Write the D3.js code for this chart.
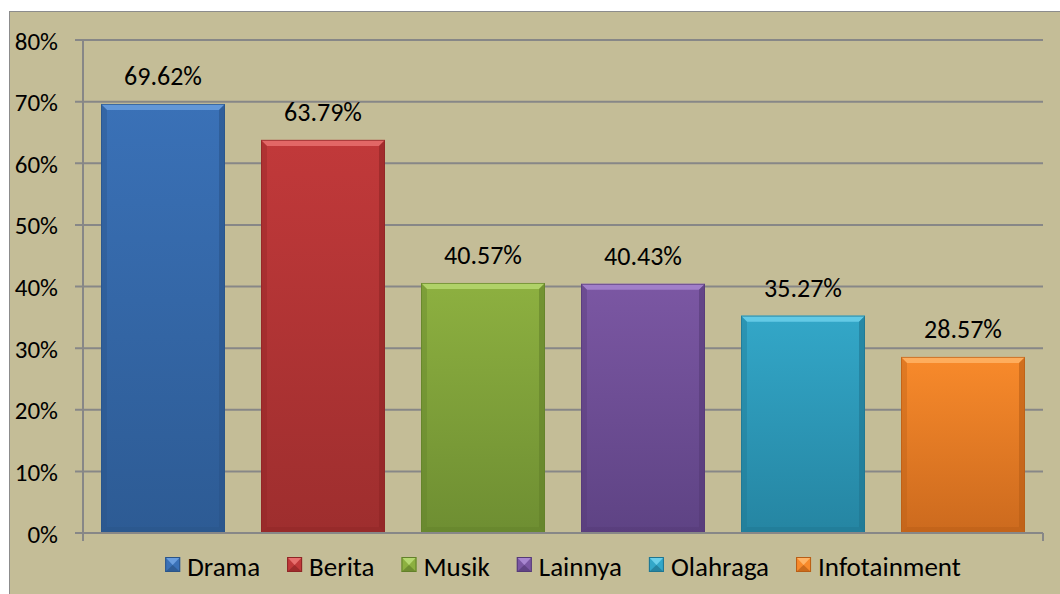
<!DOCTYPE html>
<html>
<head>
<meta charset="utf-8">
<script src="https://cdn.jsdelivr.net/npm/d3@7"></script>
<style>
  html, body { margin: 0; padding: 0; background: #ffffff; }
  svg { display: block; }
  text { font-family: Carlito, Lato, "Noto Sans", sans-serif; fill: #000; }
</style>
</head>
<body>
<svg id="chart" width="1060" height="594"></svg>
<script>
const categories = ["Drama", "Berita", "Musik", "Lainnya", "Olahraga", "Infotainment"];
const values = [69.62, 63.79, 40.57, 40.43, 35.27, 28.57];
const yTicks = [0, 10, 20, 30, 40, 50, 60, 70, 80];
const colors = [
  {base: "#3A71B7", light: "#6A9EDE", dark: "#2A5488", bottom: "#2D5B94"},
  {base: "#C1393A", light: "#E8706E", dark: "#8E2525", bottom: "#9E2E2E"},
  {base: "#8DB040", light: "#B6D870", dark: "#62802A", bottom: "#6E8E32"},
  {base: "#7B57A3", light: "#A886D0", dark: "#553A76", bottom: "#5E4384"},
  {base: "#33A7C8", light: "#6CD0EA", dark: "#1F7590", bottom: "#2585A2"},
  {base: "#F88A2B", light: "#FFB466", dark: "#B85E16", bottom: "#CC6A1E"}
];

(function () {
const svg = d3.select("#chart");
const W = 1060, H = 594;

svg.append("rect").attr("x", 9.5).attr("y", 11.5).attr("width", W).attr("height", H)
  .attr("fill", "#C4BD97").attr("stroke", "#8C8C8C").attr("stroke-width", 1);

const pLeft = 83, pRight = 1043, pTop = 40, pBottom = 533;
const x = d3.scaleBand().domain(categories).range([pLeft, pRight]).paddingInner(0.225).paddingOuter(0.1125);
const y = d3.scaleLinear().domain([0, 80]).range([pBottom, pTop]);

const defs = svg.append("defs");
colors.forEach((c, i) => {
  const g = defs.append("linearGradient").attr("id", "g" + i).attr("x1", 0).attr("y1", 0).attr("x2", 0).attr("y2", 1);
  g.append("stop").attr("offset", "0%").attr("stop-color", c.base);
  g.append("stop").attr("offset", "100%").attr("stop-color", c.bottom);
});

svg.append("g").selectAll("line").data(yTicks).join("line")
  .attr("x1", pLeft - 8).attr("x2", pRight)
  .attr("y1", d => y(d)).attr("y2", d => y(d))
  .attr("stroke", "#878787").attr("stroke-width", 2);

svg.append("line").attr("x1", pLeft).attr("x2", pLeft).attr("y1", pTop).attr("y2", pBottom + 8)
  .attr("stroke", "#878787").attr("stroke-width", 2);
[pLeft, pRight].forEach(px => {
  svg.append("line").attr("x1", px).attr("x2", px).attr("y1", pBottom).attr("y2", pBottom + 8)
    .attr("stroke", "#878787").attr("stroke-width", 2);
});

svg.append("g").selectAll("text").data(yTicks).join("text")
  .attr("x", 58).attr("y", d => y(d) + 1).attr("text-anchor", "end")
  .attr("dominant-baseline", "central").style("font-size", "25px")
  .text(d => d + "%");

const bev = 6;
const bars = svg.append("g");
categories.forEach((cat, i) => {
  const x0 = x(cat), w = x.bandwidth(), y0 = y(values[i]), y1 = y(0), c = colors[i];
  const g = bars.append("g");
  g.append("rect").attr("x", x0).attr("y", y0).attr("width", w).attr("height", y1 - y0)
    .attr("fill", `url(#g${i})`);
  g.append("polygon").attr("points", `${x0},${y0} ${x0+w},${y0} ${x0+w-bev},${y0+bev} ${x0+bev},${y0+bev}`)
    .attr("fill", c.light).attr("opacity", 0.85);
  g.append("polygon").attr("points", `${x0},${y0} ${x0+bev},${y0+bev} ${x0+bev},${y1-bev} ${x0},${y1}`)
    .attr("fill", c.dark).attr("opacity", 0.35);
  g.append("polygon").attr("points", `${x0+w},${y0} ${x0+w-bev},${y0+bev} ${x0+w-bev},${y1-bev} ${x0+w},${y1}`)
    .attr("fill", c.dark).attr("opacity", 0.6);
  g.append("polygon").attr("points", `${x0},${y1} ${x0+bev},${y1-bev} ${x0+w-bev},${y1-bev} ${x0+w},${y1}`)
    .attr("fill", c.dark).attr("opacity", 0.45);
  g.append("rect").attr("x", x0 + 0.5).attr("y", y0 + 0.5).attr("width", w - 1).attr("height", y1 - y0 - 1)
    .attr("fill", "none").attr("stroke", c.dark).attr("stroke-width", 1).attr("opacity", 0.7);
});

svg.append("line").attr("x1", pLeft - 8).attr("x2", pRight).attr("y1", pBottom).attr("y2", pBottom)
  .attr("stroke", "#878787").attr("stroke-width", 2);

svg.append("g").selectAll("text").data(categories).join("text")
  .attr("x", d => x(d) + x.bandwidth() / 2)
  .attr("y", (d, i) => y(values[i]) - 19)
  .attr("text-anchor", "middle").style("font-size", "26px")
  .text((d, i) => values[i].toFixed(2) + "%");

const legend = svg.append("g");
let cx = 0;
const gap = 27;
categories.forEach((cat, i) => {
  const g = legend.append("g");
  const c = colors[i];
  g.append("rect").attr("x", cx).attr("y", 557).attr("width", 15).attr("height", 15).attr("fill", c.base);
  g.append("polygon").attr("points", `${cx},557 ${cx+15},557 ${cx+7.5},565`).attr("fill", c.light);
  g.append("polygon").attr("points", `${cx},572 ${cx+15},572 ${cx+7.5},565`).attr("fill", c.dark).attr("opacity", 0.7);
  g.append("rect").attr("x", cx + 0.5).attr("y", 557.5).attr("width", 14).attr("height", 14)
    .attr("fill", "none").attr("stroke", c.dark).attr("stroke-width", 1);
  const t = g.append("text").attr("x", cx + 22).attr("y", 566).attr("dominant-baseline", "central")
    .style("font-size", "27px").text(cat);
  const tw = t.node().getComputedTextLength();
  cx += 22 + tw + gap;
});
const totalW = cx - gap;
const startX = (pLeft + pRight) / 2 - totalW / 2;
legend.attr("transform", `translate(${startX},0)`);
})();
</script>
</body>
</html>
